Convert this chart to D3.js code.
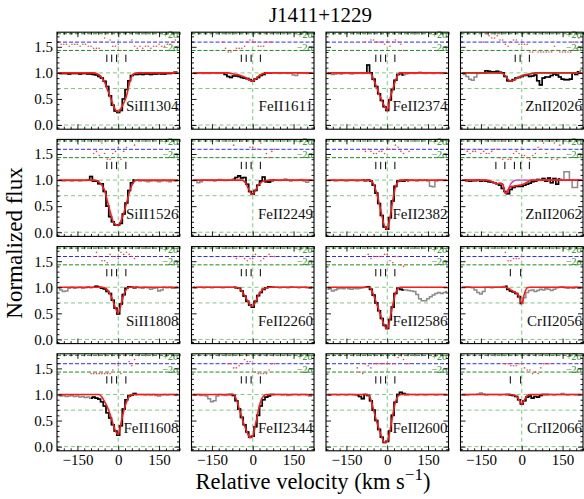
<!DOCTYPE html>
<html>
<head>
<meta charset="utf-8">
<script src="https://cdn.jsdelivr.net/npm/d3@7"></script>
<style>
  body { margin: 0; background: #fff; }
  svg { display: block; }
  text { font-family: "Liberation Serif", "Times New Roman", serif; }
</style>
</head>
<body>
<svg id="chart" width="584" height="499"></svg>
<script>
// Pixel velocities (km/s) shared by every transition
const velocity = [-220,-210,-200,-190,-180,-170,-160,-150,-140,-130,
                  -120,-110,-100,-90,-80,-70,-60,-50,-40,-30,
                  -20,-10,0,10,20,30,40,50,60,70,
                  80,90,100,110,120,130,140,150,160,170,
                  180,190,200,210,220];

const transitions = ["SiII1304","FeII1611","FeII2374","ZnII2026",
                     "SiII1526","FeII2249","FeII2382","ZnII2062",
                     "SiII1808","FeII2260","FeII2586","CrII2056",
                     "FeII1608","FeII2344","FeII2600","CrII2066"];

// Velocity window used in the fit for each transition
const fitRanges = [[-225,225],[-110,70],[-80,65],[-140,215],
                   [-110,65],[-70,80],[-90,80],[-210,145],
                   [-90,70],[-70,85],[-80,60],[-60,5],
                   [-100,70],[-90,80],[-110,80],[-60,100]];

// Velocity components marked above each profile
const compsMain = [-42,-24,-6,28];
const compsZn2026 = [-24,-6,28];
const compsZn2062 = [-95,-62,-27,-4,28];
const compsCr = [-42,-4];

const xTicks = [-150, 0, 150];
const yTicks = [0, 0.5, 1.0, 1.5];

// Normalized flux and fitted model, one pair per transition
const fluxSiII1304 = [1.00,0.99,0.99,0.99,0.98,0.99,0.99,0.99,0.98,0.99,
  0.99,0.98,0.98,0.97,0.96,0.93,0.90,0.84,0.74,0.56,
  0.38,0.27,0.24,0.28,0.50,0.68,0.85,0.95,0.97,0.97,
  0.98,0.97,0.98,0.98,0.97,0.98,0.98,0.99,0.98,0.98,
  0.99,0.99,1.00,1.01,1.00];
const modelSiII1304 = [1,1,1,1,1,1,1,1,1,1,
  1,1,1,1,0.99,0.96,0.90,0.82,0.68,0.55,
  0.40,0.29,0.25,0.32,0.42,0.55,0.78,0.94,0.99,1,
  1,1,1,1,1,1,1,1,1,1,
  1,1,1,1,1];

const fluxFeII1611 = [1.00,0.99,1.00,1.00,0.99,1.00,0.99,1.00,1.00,0.99,
  1.00,1.00,0.97,0.93,0.91,0.94,0.94,0.93,0.91,0.90,
  0.89,0.87,0.84,0.88,0.91,0.95,0.97,1.00,1.00,1.00,
  1.00,1.00,0.99,1.00,1.00,0.99,1.00,0.96,0.95,1.00,
  1.00,1.00,0.99,1.00,1.00];
const modelFeII1611 = [1,1,1,1,1,1,1,1,1,1,
  1,1,1,1,0.99,0.98,0.97,0.96,0.94,0.92,
  0.89,0.86,0.84,0.88,0.93,0.97,0.99,1,1,1,
  1,1,1,1,1,1,1,1,1,1,
  1,1,1,1,1];

const fluxFeII2374 = [0.98,0.99,0.97,0.98,0.99,0.98,0.99,1.00,0.99,0.98,
  0.99,0.99,1.00,0.99,1.00,1.15,1.00,0.88,0.74,0.60,
  0.47,0.35,0.28,0.48,0.68,0.86,0.97,0.99,0.96,0.98,
  0.99,1.00,0.99,1.00,1.01,1.00,0.99,1.00,1.00,0.99,
  1.00,1.00,0.99,1.00,1.00];
const modelFeII2374 = [1,1,1,1,1,1,1,1,1,1,
  1,1,1,1,1,1,0.99,0.87,0.74,0.60,
  0.47,0.36,0.28,0.50,0.68,0.85,0.97,1,1,1,
  1,1,1,1,1,1,1,1,1,1,
  1,1,1,1,1];

const fluxZnII2026 = [1.00,0.97,0.93,0.88,0.86,0.92,0.99,1.00,1.00,1.04,
  1.03,1.02,1.02,1.03,1.01,1.00,0.93,0.85,0.84,0.87,
  0.90,0.91,0.93,0.95,0.96,0.93,0.94,0.96,0.85,0.77,
  0.90,0.92,0.92,0.95,0.98,0.96,0.92,0.88,0.87,0.87,
  0.88,1.00,0.97,1.02,1.05];
const modelZnII2026 = [1,1,1,1,1,1,1,1,1,1,
  1,1,1,1,1,0.99,0.94,0.87,0.84,0.86,
  0.89,0.92,0.94,0.96,0.97,0.98,0.99,1,1,1,
  1,1,1,1,1,1,1,1,1,1,
  1,1,1,1,1];

const fluxSiII1526 = [0.99,0.99,0.98,0.99,0.99,0.98,0.99,0.99,0.98,0.99,
  0.99,1.00,1.07,0.98,0.98,0.93,0.93,0.78,0.50,0.30,
  0.20,0.14,0.14,0.17,0.35,0.56,0.80,0.95,1.00,1.00,
  0.98,0.99,0.98,0.97,0.98,0.99,0.98,0.97,0.98,0.99,
  0.98,0.97,0.99,0.98,0.99];
const modelSiII1526 = [1,1,1,1,1,1,1,1,1,1,
  1,1,1,1,0.99,0.96,0.90,0.80,0.60,0.40,
  0.22,0.15,0.13,0.22,0.36,0.55,0.75,0.90,0.98,1,
  1,1,1,1,1,1,1,1,1,1,
  1,1,1,1,1];

const fluxFeII2249 = [0.99,1.00,0.95,0.97,1.00,1.00,0.99,1.00,0.98,1.00,
  1.01,1.00,0.99,1.00,1.00,1.02,1.05,1.08,1.04,1.05,
  0.92,0.78,0.73,0.80,0.90,0.98,1.06,0.97,0.96,0.99,
  1.00,1.00,0.99,1.00,1.02,1.00,0.98,1.00,0.99,1.00,
  1.01,0.98,0.96,1.00,1.00];
const modelFeII2249 = [1,1,1,1,1,1,1,1,1,1,
  1,1,1,1,1,1,1,1,1,0.97,
  0.88,0.77,0.72,0.80,0.90,0.95,0.98,0.99,1,1,
  1,1,1,1,1,1,1,1,1,1,
  1,1,1,1,1];

const fluxFeII2382 = [0.99,0.99,1.00,0.98,0.99,1.00,0.99,0.98,0.99,1.00,
  0.99,0.98,0.99,1.00,0.99,1.00,0.98,0.90,0.75,0.55,
  0.32,0.10,0.06,0.28,0.60,0.88,0.98,0.99,0.98,1.00,
  0.99,1.00,0.99,0.98,1.00,0.99,1.00,0.98,0.88,0.87,
  0.98,1.00,1.00,0.99,1.00];
const modelFeII2382 = [1,1,1,1,1,1,1,1,1,1,
  1,1,1,1,1,1,0.99,0.92,0.77,0.56,
  0.33,0.12,0.06,0.28,0.60,0.86,0.97,1,1,1,
  1,1,1,1,1,1,1,1,1,1,
  1,1,1,1,1];

const fluxZnII2062 = [1.00,1.00,0.99,0.98,0.99,0.99,1.00,0.98,0.99,0.98,
  0.97,0.96,0.95,0.93,0.90,0.84,0.78,0.74,0.82,0.86,
  0.88,0.88,0.88,0.90,0.92,0.94,0.97,0.98,1.01,1.00,
  1.03,0.98,1.04,0.95,1.03,0.92,1.02,1.00,1.16,1.16,
  1.00,0.86,0.86,1.00,1.00];
const modelZnII2062 = [1,1,1,1,1,1,1,1,1,1,
  0.99,0.97,0.95,0.93,0.94,0.92,0.74,0.80,0.88,0.88,
  0.89,0.90,0.91,0.93,0.96,0.99,1,1,1,1,
  1,1,1,1,1,1,1,1,1,1,
  1,1,1,1,1];
// Fit without the zinc components
const modelZnII2062NoZn = [1,1,1,1,1,1,1,1,1,1,
  0.99,0.97,0.95,0.93,0.94,0.92,0.74,0.82,0.93,0.98,
  1,1,1,1,1,1,1,1,1,1,
  1,1,1,1,1,1,1,1,1,1,
  1,1,1,1,1];

const fluxSiII1808 = [0.99,0.95,0.92,0.93,0.98,1.00,0.98,0.99,1.00,0.98,
  0.99,1.01,0.99,1.00,1.02,1.00,0.98,0.97,0.92,0.88,
  0.75,0.60,0.49,0.68,0.86,0.98,1.01,1.00,0.99,1.00,
  0.99,0.98,1.00,0.99,0.96,0.98,0.99,0.93,0.95,1.00,
  0.99,1.00,0.98,0.99,1.00];
const modelSiII1808 = [1,1,1,1,1,1,1,1,1,1,
  1,1,1,1,1,1,1,0.99,0.95,0.87,
  0.75,0.60,0.50,0.66,0.85,0.96,1,1,1,1,
  1,1,1,1,1,1,1,1,1,1,
  1,1,1,1,1];

const fluxFeII2260 = [1.00,0.99,1.00,1.00,0.99,1.00,1.00,0.99,1.00,1.00,
  1.00,0.99,1.00,1.00,1.00,1.00,0.99,0.98,0.93,0.83,
  0.73,0.66,0.62,0.73,0.84,0.90,0.96,0.99,1.01,1.00,
  1.00,1.00,0.99,1.00,1.00,0.99,1.01,1.00,1.00,0.99,
  1.00,1.00,0.99,0.98,1.00];
const modelFeII2260 = [1,1,1,1,1,1,1,1,1,1,
  1,1,1,1,1,1,1,0.98,0.93,0.84,
  0.75,0.67,0.63,0.72,0.84,0.92,0.97,0.99,1,1,
  1,1,1,1,1,1,1,1,1,1,
  1,1,1,1,1];

const fluxFeII2586 = [0.96,0.97,0.93,0.95,0.97,0.98,0.97,0.99,0.97,0.96,
  0.98,0.97,0.98,0.99,1.00,1.01,0.96,0.85,0.70,0.55,
  0.40,0.27,0.21,0.38,0.62,0.88,0.98,0.96,0.95,0.95,
  0.94,0.93,0.92,0.86,0.78,0.74,0.74,0.78,0.82,0.85,
  0.88,0.90,0.88,0.90,0.92];
const modelFeII2586 = [1,1,1,1,1,1,1,1,1,1,
  1,1,1,1,1,1,0.97,0.85,0.70,0.55,
  0.40,0.26,0.20,0.40,0.65,0.88,0.98,1,1,1,
  1,1,1,1,1,1,1,1,1,1,
  1,1,1,1,1];

const fluxCrII2056 = [1.00,1.00,1.01,1.00,0.99,0.95,0.90,0.87,0.92,1.00,
  1.00,0.99,1.00,1.00,1.00,1.01,1.02,0.96,0.93,0.91,
  0.88,0.82,0.69,0.80,0.90,0.94,0.95,0.92,0.94,0.96,
  0.95,0.97,0.96,0.94,0.96,0.99,1.00,1.01,0.99,0.98,
  0.99,0.98,1.00,0.98,0.99];
const modelCrII2056 = [1,1,1,1,1,1,1,1,1,1,
  1,1,1,1,1,1,1,0.98,0.95,0.92,
  0.89,0.83,0.69,0.88,0.99,1,1,1,1,1,
  1,1,1,1,1,1,1,1,1,1,
  1,1,1,1,1];

const fluxFeII1608 = [0.98,0.97,0.98,0.96,0.97,0.98,0.96,0.97,0.95,0.96,
  0.94,0.95,0.93,0.95,0.93,0.91,0.86,0.78,0.65,0.55,
  0.42,0.30,0.22,0.40,0.72,0.90,0.97,0.99,1.02,1.00,
  1.00,1.00,0.99,1.00,0.99,1.00,0.98,0.97,0.99,1.00,
  0.99,1.00,1.00,0.99,1.00];
const modelFeII1608 = [1,1,1,1,1,1,1,1,1,1,
  1,1,1,1,1,1,0.95,0.86,0.76,0.62,
  0.45,0.30,0.23,0.45,0.68,0.85,0.96,1,1,1,
  1,1,1,1,1,1,1,1,1,1,
  1,1,1,1,1];

const fluxFeII2344 = [1.00,0.99,1.00,0.98,0.99,0.97,0.92,0.86,0.88,0.97,
  1.00,0.99,0.98,1.00,1.00,0.98,0.88,0.72,0.56,0.42,
  0.28,0.18,0.20,0.38,0.60,0.78,0.90,0.95,0.97,1.00,
  1.00,1.00,1.00,0.99,1.00,0.98,0.99,1.00,1.00,0.99,
  1.00,1.00,0.99,0.97,1.00];
const modelFeII2344 = [1,1,1,1,1,1,1,1,1,1,
  1,1,1,1,1,1,0.90,0.73,0.56,0.40,
  0.27,0.17,0.20,0.42,0.68,0.88,0.97,1,1,1,
  1,1,1,1,1,1,1,1,1,1,
  1,1,1,1,1];

const fluxFeII2600 = [1.00,0.99,1.00,1.00,0.99,1.00,1.00,0.99,1.00,1.00,
  0.99,0.98,0.96,0.92,1.00,0.98,0.88,0.70,0.50,0.33,
  0.18,0.08,0.10,0.30,0.60,0.85,1.00,1.04,1.02,1.00,
  1.00,1.00,1.00,0.99,1.00,1.00,0.99,1.00,1.00,1.00,
  0.99,1.00,1.00,1.00,1.00];
const modelFeII2600 = [1,1,1,1,1,1,1,1,1,1,
  1,1,1,1,1,0.99,0.90,0.70,0.50,0.33,
  0.18,0.08,0.10,0.30,0.60,0.85,0.97,1,1,1,
  1,1,1,1,1,1,1,1,1,1,
  1,1,1,1,1];

const fluxCrII2066 = [1.00,1.00,0.99,1.00,1.00,1.00,1.01,1.03,1.01,0.99,
  1.00,1.00,1.00,1.00,0.99,1.00,1.00,1.00,0.99,0.98,
  0.96,0.90,0.82,0.88,0.95,0.97,0.93,0.96,0.95,0.98,
  1.00,1.00,1.00,1.00,0.99,1.00,1.00,1.02,1.00,0.99,
  1.00,1.00,0.99,1.00,1.00];
const modelCrII2066 = [1,1,1,1,1,1,1,1,1,1,
  1,1,1,1,1,1,1,1,1,0.99,
  0.97,0.90,0.82,0.90,0.98,1,1,1,1,1,
  1,1,1,1,1,1,1,1,1,1,
  1,1,1,1,1];

const fluxes = [fluxSiII1304, fluxFeII1611, fluxFeII2374, fluxZnII2026,
                fluxSiII1526, fluxFeII2249, fluxFeII2382, fluxZnII2062,
                fluxSiII1808, fluxFeII2260, fluxFeII2586, fluxCrII2056,
                fluxFeII1608, fluxFeII2344, fluxFeII2600, fluxCrII2066];
const models = [modelSiII1304, modelFeII1611, modelFeII2374, modelZnII2026,
                modelSiII1526, modelFeII2249, modelFeII2382, modelZnII2062,
                modelSiII1808, modelFeII2260, modelFeII2586, modelCrII2056,
                modelFeII1608, modelFeII2344, modelFeII2600, modelCrII2066];
const altModels = {3: modelZnII2026, 7: modelZnII2062NoZn};
const comps = [compsMain, compsMain, compsMain, compsZn2026,
               compsMain, compsMain, compsMain, compsZn2062,
               compsMain, compsMain, compsMain, compsCr,
               compsMain, compsMain, compsMain, compsCr];

// ---- layout ----
const svg = d3.select("#chart");
const W = 122.5, H = 97;
const colX = [57, 191.5, 326, 460.5];
const rowY = [32.2, 139.4, 246.6, 353.8];
const x = d3.scaleLinear().domain([-225, 225]).range([0, W]);
const y = d3.scaleLinear().domain([-0.08, 1.78]).range([H, 0]);

const resCenter = 1.59, resHi = 1.75, resLo = 1.43;

const xMinor = [-225,-200,-175,-125,-100,-75,-50,-25,25,50,75,100,125,175,200,225];
const yMinor = [-0.05,0.1,0.2,0.3,0.4,0.6,0.7,0.8,0.9,1.1,1.2,1.3,1.4,1.6,1.7];

const defs = svg.append("defs");

transitions.forEach((name, i) => {
  const row = Math.floor(i / 4), col = i % 4;
  const g = svg.append("g").attr("transform", `translate(${colX[col]},${rowY[row]})`);
  defs.append("clipPath").attr("id", "clip" + i)
    .append("rect").attr("width", W).attr("height", H);
  const plot = g.append("g").attr("clip-path", `url(#clip${i})`);

  // reference guides
  [0, 0.7, 1.0].forEach(v => {
    plot.append("line").attr("x1", 0).attr("x2", W)
      .attr("y1", y(v)).attr("y2", y(v))
      .attr("stroke", "#62b862").attr("stroke-width", 0.8).attr("stroke-dasharray", "4,3");
  });
  plot.append("line").attr("x1", x(0)).attr("x2", x(0)).attr("y1", 0).attr("y2", H)
    .attr("stroke", "#62b862").attr("stroke-width", 0.8).attr("stroke-dasharray", "4,3");
  [resHi, resLo].forEach(v => {
    plot.append("line").attr("x1", 0).attr("x2", W)
      .attr("y1", y(v)).attr("y2", y(v))
      .attr("stroke", "#1f8a1f").attr("stroke-width", 1).attr("stroke-dasharray", "4,2");
  });
  plot.append("line").attr("x1", 0).attr("x2", W)
    .attr("y1", y(resCenter)).attr("y2", y(resCenter))
    .attr("stroke", "#2b2bff").attr("stroke-width", 1).attr("stroke-dasharray", "4,2");

  const fl = fluxes[i], md = models[i], fr = fitRanges[i];
  const pts = velocity.map((v, k) => ({v, f: fl[k], m: md[k]}));
  const inFit = pts.filter(p => p.v >= fr[0] && p.v <= fr[1]);

  // residuals in sigma units around the centre line
  plot.selectAll(".res").data(inFit).join("circle")
    .attr("cx", p => x(p.v))
    .attr("cy", p => y(Math.max(1.40, Math.min(1.78, resCenter + (p.f - p.m) * 4))))
    .attr("r", 0.8).attr("fill", "#ff4040");

  // component markers
  comps[i].forEach(c => {
    plot.append("line").attr("x1", x(c)).attr("x2", x(c))
      .attr("y1", y(1.35)).attr("y2", y(1.21))
      .attr("stroke", "#000").attr("stroke-width", 1);
  });

  const stepLine = d3.line().x(p => x(p.v)).y(p => y(p.f)).curve(d3.curveStep);
  plot.append("path").attr("d", stepLine(pts))
    .attr("fill", "none").attr("stroke", "#8a8a8a").attr("stroke-width", 1.5);
  plot.append("path").attr("d", stepLine(inFit))
    .attr("fill", "none").attr("stroke", "#000").attr("stroke-width", 1.6);

  const modelLine = d3.line().x(p => x(p.v)).y(p => y(p.m)).curve(d3.curveMonotoneX);
  if (altModels[i]) {
    const alt = velocity.map((v, k) => ({v, m: altModels[i][k]}));
    plot.append("path").attr("d", modelLine(alt))
      .attr("fill", "none").attr("stroke", "#c040c0").attr("stroke-width", 1.3);
  }
  plot.append("path").attr("d", modelLine(pts))
    .attr("fill", "none").attr("stroke", i === 3 ? "#d02a10" : "#ff1a1a").attr("stroke-width", 1.6);

  // labels
  g.append("text").attr("x", W - 1).attr("y", y(resHi) + 4.5)
    .attr("text-anchor", "end").attr("font-size", 10).attr("fill", "#1f8a1f").text("+2σ");
  g.append("text").attr("x", W - 1).attr("y", y(resLo) + 0.5)
    .attr("text-anchor", "end").attr("font-size", 10).attr("fill", "#1f8a1f").text("−2σ");
  g.append("text").attr("x", W - 1).attr("y", y(0.26))
    .attr("text-anchor", "end").attr("font-size", 15).attr("fill", "#111").text(name);

  // axes with inward ticks on all four sides
  const showX = row === 3, showY = col === 0;
  const styleAxis = sel => {
    sel.select(".domain").remove();
    sel.selectAll("line").attr("stroke", "#000").attr("stroke-width", 0.9);
    sel.selectAll("text").attr("font-family", "'Liberation Serif', serif")
      .attr("font-size", 15).attr("fill", "#000");
  };
  g.append("g").attr("transform", `translate(0,${H})`)
    .call(d3.axisBottom(x).tickValues(xTicks).tickSize(-5).tickPadding(4)
      .tickFormat(showX ? d3.format("d") : () => ""))
    .call(styleAxis);
  g.append("g").attr("transform", `translate(0,${H})`)
    .call(d3.axisBottom(x).tickValues(xMinor).tickSize(-2.5).tickFormat(() => ""))
    .call(styleAxis);
  g.append("g").call(d3.axisTop(x).tickValues(xTicks).tickSize(-5).tickFormat(() => "")).call(styleAxis);
  g.append("g").call(d3.axisTop(x).tickValues(xMinor).tickSize(-2.5).tickFormat(() => "")).call(styleAxis);
  g.append("g")
    .call(d3.axisLeft(y).tickValues(yTicks).tickSize(-5).tickPadding(4)
      .tickFormat(showY ? d3.format(".1f") : () => ""))
    .call(styleAxis);
  g.append("g").call(d3.axisLeft(y).tickValues(yMinor).tickSize(-2.5).tickFormat(() => "")).call(styleAxis);
  g.append("g").attr("transform", `translate(${W},0)`)
    .call(d3.axisRight(y).tickValues(yTicks).tickSize(-5).tickFormat(() => "")).call(styleAxis);
  g.append("g").attr("transform", `translate(${W},0)`)
    .call(d3.axisRight(y).tickValues(yMinor).tickSize(-2.5).tickFormat(() => "")).call(styleAxis);

  g.append("rect").attr("width", W).attr("height", H)
    .attr("fill", "none").attr("stroke", "#000").attr("stroke-width", 1.1);
});

// figure titles
svg.append("text").attr("x", 320.5).attr("y", 22).attr("text-anchor", "middle")
  .attr("font-size", 21).text("J1411+1229");

const xl = svg.append("text").attr("x", 313).attr("y", 489).attr("text-anchor", "middle")
  .attr("font-size", 22.5);
xl.append("tspan").text("Relative velocity (km s");
xl.append("tspan").attr("dy", -9).attr("font-size", 17).text("−1");
xl.append("tspan").attr("dy", 9).text(")");

svg.append("text").attr("transform", "translate(22,243) rotate(-90)")
  .attr("text-anchor", "middle").attr("font-size", 23).text("Normalized flux");
</script>
</body>
</html>
